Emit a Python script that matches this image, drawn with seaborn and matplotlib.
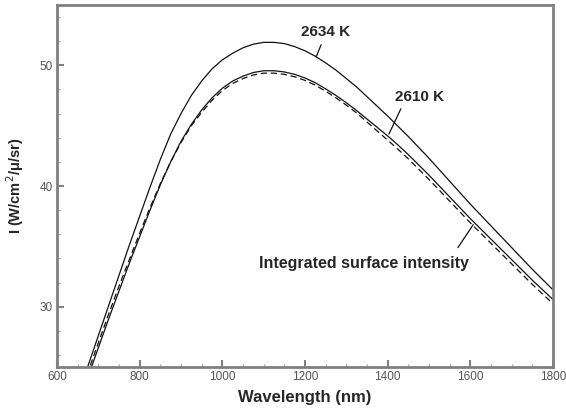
import numpy as np
import pandas as pd
import matplotlib
matplotlib.use("Agg")
import matplotlib.pyplot as plt
import seaborn as sns
from matplotlib.ticker import MultipleLocator

# wavelength grid (nm) and the three curves
wavelength = [650, 675, 700, 725, 750, 775, 800, 825, 850, 875, 900, 925, 950, 975,
              1000, 1025, 1050, 1075, 1100, 1125, 1150, 1175, 1200, 1225, 1250, 1275,
              1300, 1325, 1350, 1375, 1400, 1425, 1450, 1475, 1500, 1525, 1550, 1575,
              1600, 1625, 1650, 1675, 1700, 1725, 1750, 1775, 1800]
i_2634 = [22.6, 25.1, 27.6, 30.1, 32.6, 35.1, 37.5, 39.9, 42.2, 44.3, 46.0, 47.5, 48.7, 49.7,
          50.45, 51.0, 51.45, 51.75, 51.9, 51.9, 51.8, 51.55, 51.2, 50.75, 50.2, 49.6,
          48.9, 48.2, 47.4, 46.6, 45.8, 44.95, 44.1, 43.2, 42.3, 41.35, 40.4, 39.45,
          38.5, 37.6, 36.7, 35.8, 34.9, 34.0, 33.1, 32.25, 31.4]
i_2610 = [21.6, 24.2, 26.6, 29.0, 31.3, 33.6, 35.8, 38.0, 40.1, 42.0, 43.7, 45.1, 46.3, 47.3,
          48.1, 48.7, 49.1, 49.4, 49.55, 49.55, 49.45, 49.25, 48.95, 48.55, 48.05, 47.5,
          46.9, 46.25, 45.55, 44.85, 44.15, 43.4, 42.6, 41.75, 40.9, 40.0, 39.1, 38.2,
          37.3, 36.45, 35.6, 34.75, 33.9, 33.05, 32.2, 31.4, 30.6]
i_surface = [22.0, 24.6, 27.0, 29.4, 31.7, 33.9, 36.1, 38.2, 40.2, 42.0, 43.6, 45.0, 46.1, 47.1,
             47.9, 48.5, 48.9, 49.2, 49.35, 49.35, 49.25, 49.05, 48.75, 48.35, 47.85, 47.3,
             46.7, 46.05, 45.3, 44.55, 43.8, 43.05, 42.25, 41.4, 40.55, 39.65, 38.75, 37.85,
             36.95, 36.1, 35.25, 34.4, 33.55, 32.7, 31.85, 31.05, 30.25]

curve_names = ["2634 K", "2610 K", "Integrated surface intensity"]

sns.set_theme(style="white")
plt.rcParams["font.family"] = ["Liberation Sans", "DejaVu Sans"]

n = len(wavelength)
df = pd.DataFrame({
    "wl": wavelength * 3,
    "I": i_2634 + i_2610 + i_surface,
    "curve": [curve_names[0]] * n + [curve_names[1]] * n + [curve_names[2]] * n,
})

fig = plt.figure(figsize=(5.66, 4.12), dpi=100)
ax = fig.add_axes([0.1007, 0.109, 0.8763, 0.879])

sns.lineplot(data=df, x="wl", y="I", style="curve", color="#111111", lw=0.9,
             dashes={curve_names[0]: "", curve_names[1]: "", curve_names[2]: (5, 3)},
             legend=False, ax=ax, sort=False)

ax.set_xlim(600, 1800)
ax.set_ylim(25, 55)
ax.xaxis.set_major_locator(MultipleLocator(200))
ax.xaxis.set_minor_locator(MultipleLocator(50))
ax.yaxis.set_major_locator(MultipleLocator(10))
ax.yaxis.set_minor_locator(MultipleLocator(2))
ax.tick_params(which="major", direction="in", length=5, width=1.5, color="#808080",
               labelsize=8.5, labelcolor="#555555", pad=3)
ax.tick_params(which="minor", direction="in", length=2.5, width=0.8, color="#a0a0a0")
ax.tick_params(axis="x", which="both", bottom=True)
ax.tick_params(axis="y", which="both", left=True)
for sp in ax.spines.values():
    sp.set_linewidth(2)
    sp.set_color("#808080")

ax.set_xlabel("Wavelength (nm)", fontsize=12, fontweight="bold", labelpad=5)
ax.set_ylabel("I (W/cm$^2$/\u03bc/sr)", fontsize=10.5, fontweight="bold", labelpad=10)

# labels with short leader lines
lead = dict(arrowstyle="-", color="#111111", lw=0.9, shrinkA=0, shrinkB=0)
ax.text(1250, 52.75, "2634 K", fontsize=11, fontweight="bold", ha="center", va="center")
ax.annotate("", xy=(1227, 50.7), xytext=(1239, 51.7), arrowprops=lead)
ax.text(1418, 47.4, "2610 K", fontsize=11, fontweight="bold", ha="left", va="center")
ax.annotate("", xy=(1403, 44.3), xytext=(1432, 46.4), arrowprops=lead)
ax.text(1342, 33.6, "Integrated surface intensity", fontsize=11.5, fontweight="bold",
        ha="center", va="center")
ax.annotate("", xy=(1607, 36.8), xytext=(1570, 34.9), arrowprops=lead)

fig.savefig("out.png", dpi=100)
